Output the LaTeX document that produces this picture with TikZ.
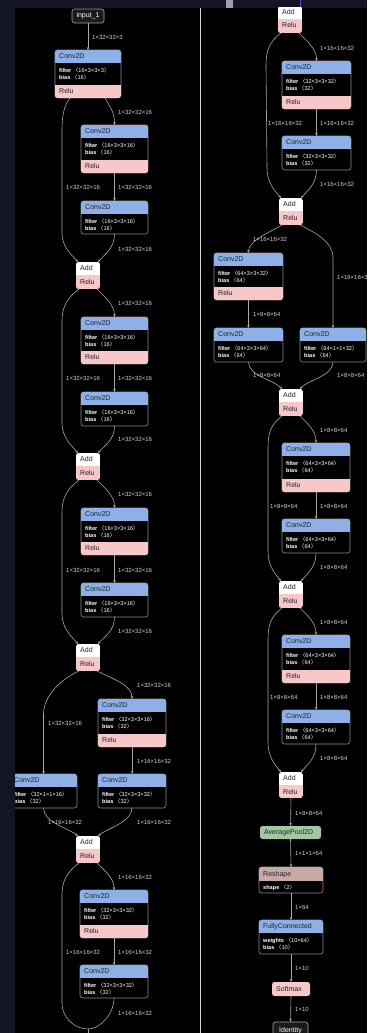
\documentclass[tikz,border=0pt]{standalone}
\usepackage{fontspec}
\setmainfont{Liberation Sans}
\newfontfamily\cjk{Noto Sans CJK SC}
\usetikzlibrary{fit,calc,arrows.meta}
\definecolor{navy}{HTML}{151528}
\definecolor{convc}{HTML}{8DB1E6}
\definecolor{reluc}{HTML}{F8C8C8}
\definecolor{poolc}{HTML}{A3C7A0}
\definecolor{shapec}{HTML}{C9AAA2}
\definecolor{edgec}{HTML}{A8A8A8}
\definecolor{lblc}{HTML}{D0D0D0}
\definecolor{bordc}{HTML}{8C8C8C}
\definecolor{ttlc}{HTML}{1E2030}
\definecolor{sepc}{HTML}{D8D8D8}
\definecolor{stripg}{HTML}{A0A0AC}
\definecolor{stripp}{HTML}{5A4FB0}
\definecolor{bodyc}{HTML}{000000}
\definecolor{iofill}{HTML}{1A1A1A}
\tikzset{
  edge/.style={draw=edgec, line width=0.6pt, -{Stealth[length=3pt,width=2.6pt]}},
  plainedge/.style={draw=edgec, line width=0.6pt},
  lbl/.style={anchor=west, inner sep=0pt, text=lblc, font=\fontsize{6}{7}\selectfont},
  ttl/.style={anchor=west, inner sep=0pt, text=ttlc, text height=5.2pt, text depth=1.2pt, font=\fontsize{7}{8}\selectfont},
  attr/.style={anchor=west, inner sep=0pt, text=white, text height=4pt, text depth=1pt, font=\fontsize{5.6}{6.5}\selectfont},
  border/.style={draw=bordc, line width=0.6pt, rounded corners=2.5pt},
  iobox/.style={draw=gray!70, line width=0.6pt, fill=iofill, rounded corners=2.5pt, text=white, inner sep=0pt, font=\fontsize{7}{8}\selectfont},
}
\newcommand\areanode[5]{\node[fit={(#2,#3) (#4,#5)}, inner sep=0pt, outer sep=0pt] (#1) {};}
\newcommand\kv[2]{\textbf{#1} {\cjk 〈}#2{\cjk 〉}}
\newcommand\convR[7]{%
  \areanode{#1}{#2}{#3}{#4}{#5}
  \fill[bodyc, rounded corners=2.5pt] (#2,#3) rectangle (#4,#5);
  \draw[border] (#2,#3) rectangle (#4,#5);
  \begin{scope}
    \clip[rounded corners=2.5pt] (#2,#3) rectangle (#4,#5);
    \fill[convc] (#2,#3) rectangle (#4,#3+13);
    \fill[reluc] (#2,#5-13.5) rectangle (#4,#5);
  \end{scope}
  \node[ttl] (#1-t) at (#2+4,#3+6.5) {Conv2D};
  \node[attr] (#1-f) at (#2+4,#3+20.5) {\kv{filter}{#6}};
  \node[attr] (#1-b) at (#2+4,#3+28) {\kv{bias}{#7}};
  \node[ttl] (#1-r) at (#2+4,#5-6.75) {Relu};
}
\newcommand\convN[7]{%
  \areanode{#1}{#2}{#3}{#4}{#5}
  \fill[bodyc, rounded corners=2.5pt] (#2,#3) rectangle (#4,#5);
  \draw[border] (#2,#3) rectangle (#4,#5);
  \begin{scope}
    \clip[rounded corners=2.5pt] (#2,#3) rectangle (#4,#5);
    \fill[convc] (#2,#3) rectangle (#4,#3+13);
  \end{scope}
  \node[ttl] (#1-t) at (#2+4,#3+6.5) {Conv2D};
  \node[attr] (#1-f) at (#2+4,#3+20.5) {\kv{filter}{#6}};
  \node[attr] (#1-b) at (#2+4,#3+28) {\kv{bias}{#7}};
}
\newcommand\addbox[5]{%
  \areanode{#1}{#2}{#3}{#4}{#5}
  \begin{scope}
    \clip[rounded corners=2.5pt] (#2,#3) rectangle (#4,#5);
    \fill[white] (#2,#3) rectangle (#4,#3+13);
    \fill[reluc] (#2,#3+13) rectangle (#4,#5);
  \end{scope}
  \node[ttl] (#1-t) at (#2+4,#3+6.5) {Add};
  \node[ttl] (#1-r) at (#2+4,#3+20) {Relu};
}
\newcommand\onebox[7]{% name x1 y1 x2 y2 colour text
  \areanode{#1}{#2}{#3}{#4}{#5}
  \fill[#6, rounded corners=2.5pt] (#2,#3) rectangle (#4,#5);
  \node[ttl] (#1-t) at (#2+4,#3/2+#5/2) {#7};
}
\newcommand\lb[4]{\node[lbl] (#1) at (#2,#3) {#4};}
\newcommand\resblock[5]{%
  \draw[edge] ([xshift=9pt]#1.south) .. controls +(8,8) and +(0,-12) .. (#2.north);
  \draw[edge] ([xshift=-9pt]#1.south) .. controls +(-12,9) and +(0,-14) .. ($(#1.south)+(#5,32)$) -- ($(#4.north)+(#5,-30)$) .. controls +(0,14) and +(-7,-8) .. ([xshift=-10pt]#4.north);
  \draw[edge] (#2.south) -- (#3.north);
  \draw[edge] (#3.south) .. controls +(0,14) and +(7,-8) .. ([xshift=10pt]#4.north);
}
\begin{document}
\begin{tikzpicture}[x=1pt,y=-1pt]
\useasboundingbox (0,0) rectangle (367,1033);
\fill[navy] (0,0) rectangle (367,1033);
\fill[stripg] (226,0) rectangle (233,8);
\draw[stripp, line width=1pt] (300,0) -- (300,8);
\fill[black] (15,8) rectangle (367,1033);
\begin{scope}
\clip (15,8) rectangle (367,1033);
\draw[sepc, line width=0.7pt] (200,8) -- (200,1033);

% ---------- left column ----------
\node[iobox, minimum width=32pt, minimum height=14pt] (in) at (88,16) {input\_1};
\convR{c1}{55}{50}{121}{98}{16×3×3×3}{16}
\convR{c2}{81}{125}{148}{173}{16×3×3×16}{16}
\convN{c3}{81}{201}{148}{234}{16×3×3×16}{16}
\addbox{a1}{76}{262}{100}{289}
\convR{c4}{81}{317}{148}{364}{16×3×3×16}{16}
\convN{c5}{81}{392}{148}{426}{16×3×3×16}{16}
\addbox{a2}{76}{453}{100}{480}
\convR{c6}{81}{508}{148}{555}{16×3×3×16}{16}
\convN{c7}{81}{583}{148}{617}{16×3×3×16}{16}
\addbox{a3}{76}{644}{100}{671}
\convR{c8}{98}{699}{166}{747}{32×3×3×16}{32}
\convN{c9}{10}{774}{77}{808}{32×1×1×16}{32}
\convN{c10}{98}{774}{166}{808}{32×3×3×32}{32}
\addbox{a4}{76}{836}{100}{863}
\convR{c11}{80}{890}{148}{938}{32×3×3×32}{32}
\convN{c12}{80}{965}{148}{998}{32×3×3×32}{32}
\coordinate (mergeL) at (88,1029);
\coordinate (downL) at (88,1040);

\draw[edge] (in.south) -- (c1.north);
\draw[edge] ([xshift=17pt]c1.south) .. controls +(5,9) and +(0,-13) .. (c2.north);
\draw[edge] ([xshift=-18pt]c1.south) .. controls +(-7,9) and +(0,-14) .. (62,132) -- (62,233) .. controls +(0,14) and +(-7,-8) .. ([xshift=-10pt]a1.north);
\draw[edge] (c2.south) -- (c3.north);
\draw[edge] (c3.south) .. controls +(0,14) and +(7,-8) .. ([xshift=10pt]a1.north);
\resblock{a1}{c4}{c5}{a2}{-26}
\resblock{a2}{c6}{c7}{a3}{-26}
\draw[edge] ([xshift=9pt]a3.south) .. controls +(16,8) and +(0,-14) .. (c8.north);
\draw[edge] ([xshift=-9pt]a3.south) .. controls +(-18,8) and +(0,-18) .. ($(c9.north)+(0,-60)$) -- (c9.north);
\draw[edge] (c8.south) -- (c10.north);
\draw[edge] (c9.south) .. controls +(0,14) and +(-10,-8) .. ([xshift=-10pt]a4.north);
\draw[edge] (c10.south) .. controls +(0,14) and +(10,-8) .. ([xshift=10pt]a4.north);
\draw[edge] ([xshift=9pt]a4.south) .. controls +(8,8) and +(0,-12) .. (c11.north);
\draw[plainedge] ([xshift=-9pt]a4.south) .. controls +(-12,9) and +(0,-14) .. ($(a4.south)+(-26,32)$) -- (62,1003) .. controls +(0,16) and +(-12,0) .. (mergeL);
\draw[edge] (c11.south) -- (c12.north);
\draw[plainedge] (c12.south) .. controls +(0,16) and +(12,0) .. (mergeL);
\draw[plainedge] (mergeL) -- (downL);

\lb{l1}{92}{37}{1×32×32×3}
\lb{l2}{118}{112}{1×32×32×16}
\lb{l3}{66}{187}{1×32×32×16}
\lb{l4}{118}{187}{1×32×32×16}
\lb{l5}{118}{249}{1×32×32×16}
\lb{l6}{118}{303}{1×32×32×16}
\lb{l7}{66}{378}{1×32×32×16}
\lb{l8}{118}{378}{1×32×32×16}
\lb{l9}{118}{439}{1×32×32×16}
\lb{l10}{118}{494}{1×32×32×16}
\lb{l11}{66}{570}{1×32×32×16}
\lb{l12}{118}{570}{1×32×32×16}
\lb{l13}{118}{631}{1×32×32×16}
\lb{l14}{137}{685}{1×32×32×16}
\lb{l15}{48}{723}{1×32×32×16}
\lb{l16}{137}{761}{1×16×16×32}
\lb{l17}{48}{822}{1×16×16×32}
\lb{l18}{137}{822}{1×16×16×32}
\lb{l19}{118}{877}{1×16×16×32}
\lb{l20}{66}{952}{1×16×16×32}
\lb{l21}{118}{952}{1×16×16×32}
\lb{l22}{118}{1013}{1×16×16×32}

% ---------- right column ----------
\addbox{a5}{278}{6}{302}{33}
\convR{c13}{282}{61}{351}{109}{32×3×3×32}{32}
\convN{c14}{282}{136}{351}{170}{32×3×3×32}{32}
\addbox{a6}{279}{198}{303}{225}
\convR{c15}{214}{253}{283}{300}{64×3×3×32}{64}
\convN{c17}{214}{328}{283}{362}{64×3×3×64}{64}
\convN{c16}{300}{328}{366}{362}{64×1×1×32}{64}
\addbox{a7}{279}{389}{303}{416}
\convR{c18}{282}{443}{350}{492}{64×3×3×64}{64}
\convN{c19}{282}{519}{350}{553}{64×3×3×64}{64}
\addbox{a8}{279}{581}{303}{608}
\convR{c20}{282}{635}{350}{683}{64×3×3×64}{64}
\convN{c21}{282}{710}{350}{744}{64×3×3×64}{64}
\addbox{a9}{279}{772}{303}{798}
\onebox{pool}{260}{826}{321}{839}{poolc}{AveragePool2D}
% reshape
\areanode{resh}{259}{867}{323}{893}
\fill[bodyc, rounded corners=2.5pt] (259,867) rectangle (323,893);
\draw[border] (259,867) rectangle (323,893);
\begin{scope}
  \clip[rounded corners=2.5pt] (259,867) rectangle (323,893);
  \fill[shapec] (259,867) rectangle (323,881);
\end{scope}
\node[ttl] (resh-t) at (263,874) {Reshape};
\node[attr] (resh-s) at (263,887.5) {\kv{shape}{2}};
% fully connected
\areanode{fc}{259}{920}{323}{954}
\fill[bodyc, rounded corners=2.5pt] (259,920) rectangle (323,954);
\draw[border] (259,920) rectangle (323,954);
\begin{scope}
  \clip[rounded corners=2.5pt] (259,920) rectangle (323,954);
  \fill[convc] (259,920) rectangle (323,933);
\end{scope}
\node[ttl] (fc-t) at (263,926.5) {FullyConnected};
\node[attr] (fc-w) at (263,940.5) {\kv{weights}{10×64}};
\node[attr] (fc-b) at (263,948) {\kv{bias}{10}};
\onebox{soft}{272}{982}{310}{996}{reluc}{Softmax}
\node[iobox, minimum width=35pt, minimum height=18pt] (ident) at (290.5,1031) {Identity};

\resblock{a5}{c13}{c14}{a6}{-24}
\draw[edge] ([xshift=-9pt]a6.south) .. controls +(-14,8) and +(0,-12) .. (c15.north);
\draw[edge] ([xshift=9pt]a6.south) .. controls +(16,8) and +(0,-16) .. ($(c16.north)+(0,-70)$) -- (c16.north);
\draw[edge] (c15.south) -- (c17.north);
\draw[edge] (c17.south) .. controls +(0,14) and +(-8,-9) .. ([xshift=-9pt]a7.north);
\draw[edge] (c16.south) .. controls +(0,14) and +(8,-9) .. ([xshift=9pt]a7.north);
\resblock{a7}{c18}{c19}{a8}{-23}
\resblock{a8}{c20}{c21}{a9}{-23}
\draw[edge] (a9.south) -- (pool.north);
\draw[edge] (pool.south) -- (resh.north);
\draw[edge] (resh.south) -- (fc.north);
\draw[edge] (fc.south) -- (soft.north);
\draw[edge] (soft.south) -- (ident.north);

\lb{r1}{320}{48}{1×16×16×32}
\lb{r2}{268}{123}{1×16×16×32}
\lb{r3}{320}{123}{1×16×16×32}
\lb{r4}{320}{184}{1×16×16×32}
\lb{r5}{253}{239}{1×16×16×32}
\lb{r6}{337}{277}{1×16×16×32}
\lb{r7}{253}{314}{1×8×8×64}
\lb{r8}{253}{375}{1×8×8×64}
\lb{r9}{337}{375}{1×8×8×64}
\lb{r10}{320}{430}{1×8×8×64}
\lb{r11}{270}{506}{1×8×8×64}
\lb{r12}{320}{506}{1×8×8×64}
\lb{r13}{320}{567}{1×8×8×64}
\lb{r14}{320}{622}{1×8×8×64}
\lb{r15}{270}{697}{1×8×8×64}
\lb{r16}{320}{697}{1×8×8×64}
\lb{r17}{320}{758}{1×8×8×64}
\lb{r18}{295}{813}{1×8×8×64}
\lb{r19}{295}{853}{1×1×1×64}
\lb{r20}{295}{907}{1×64}
\lb{r21}{295}{968}{1×10}
\lb{r22}{295}{1009}{1×10}
\end{scope}
\end{tikzpicture}
\end{document}
